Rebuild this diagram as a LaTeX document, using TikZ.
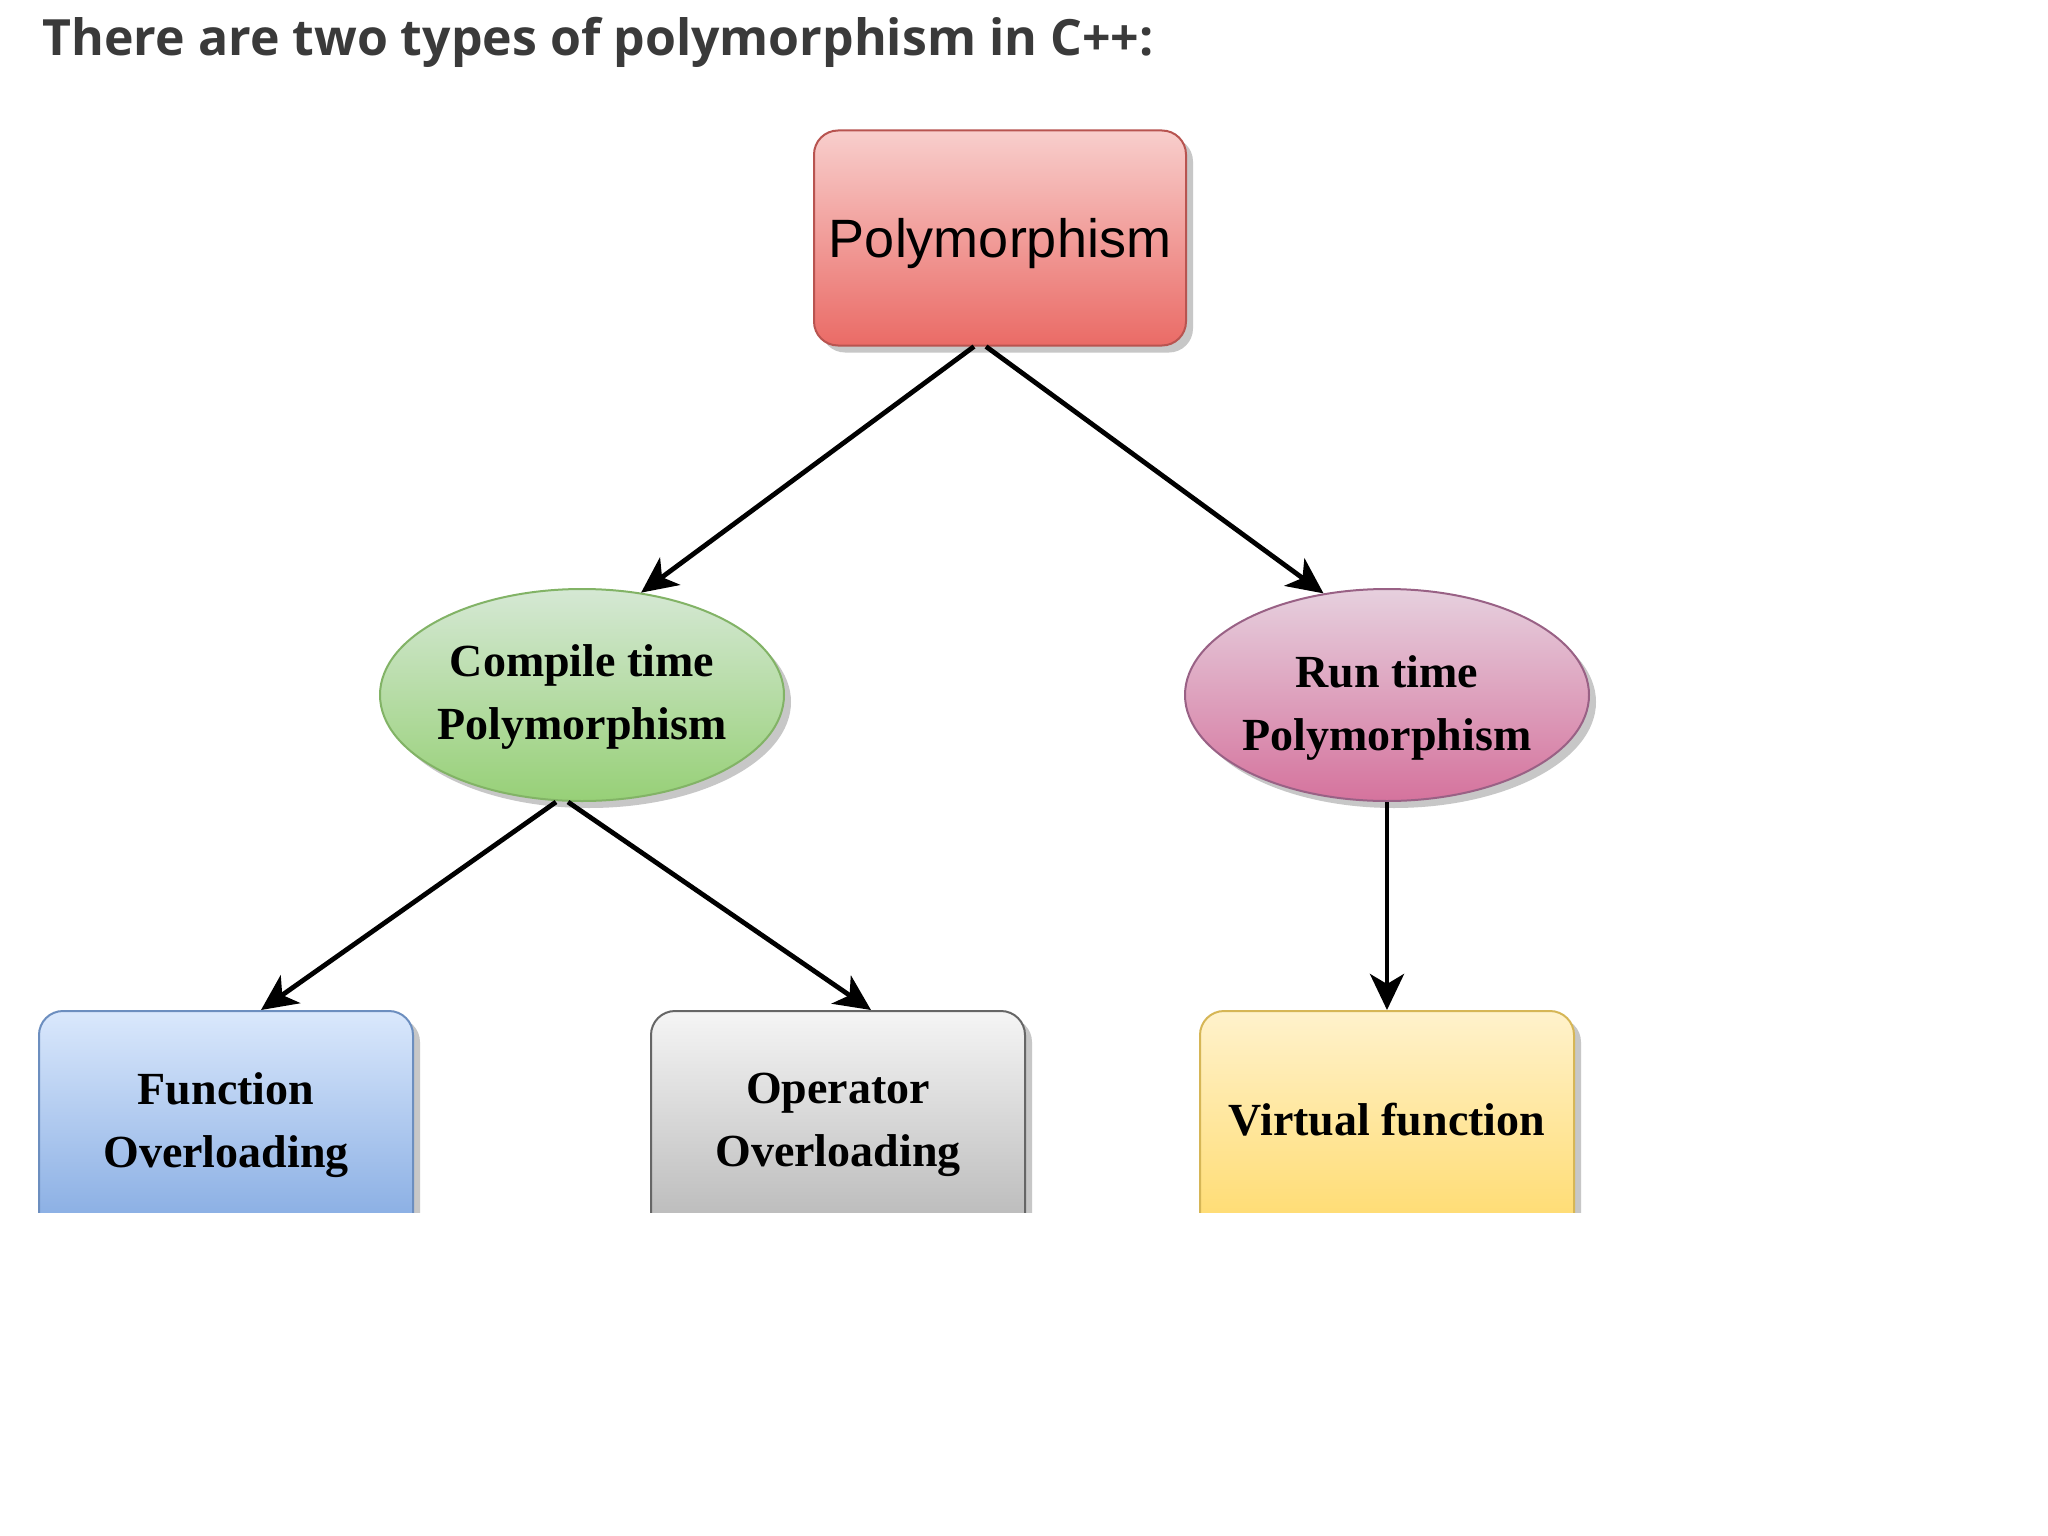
\documentclass[tikz,border=0pt]{standalone}
\usepackage{fontspec}
\setmainfont{Liberation Serif}
\newfontfamily\arialf{Liberation Sans}
\newfontfamily\titlef{Open Sans}
\usetikzlibrary{shapes.geometric,shadows,arrows.meta}
\definecolor{redT}{HTML}{F8CECC}\definecolor{redB}{HTML}{EA6B66}\definecolor{redD}{HTML}{B85450}
\definecolor{grnT}{HTML}{D5E8D4}\definecolor{grnB}{HTML}{97D077}\definecolor{grnD}{HTML}{82B366}
\definecolor{pnkT}{HTML}{E6D0DE}\definecolor{pnkB}{HTML}{D5739D}\definecolor{pnkD}{HTML}{996185}
\definecolor{bluT}{HTML}{DAE8FC}\definecolor{bluB}{HTML}{7EA6E0}\definecolor{bluD}{HTML}{6C8EBF}
\definecolor{gryT}{HTML}{F5F5F5}\definecolor{gryB}{HTML}{B3B3B3}\definecolor{gryD}{HTML}{666666}
\definecolor{ylwT}{HTML}{FFF2CC}\definecolor{ylwB}{HTML}{FFD966}\definecolor{ylwD}{HTML}{D6B656}
\definecolor{titlec}{HTML}{3A3A3A}
\begin{document}
\begin{tikzpicture}[x=1pt,y=-1pt,
  shad/.style={drop shadow={shadow xshift=7pt,shadow yshift=-7pt,fill=black!40,opacity=0.55}},
  topbox/.style={rectangle,rounded corners=24pt,line width=2pt,minimum width=372pt,minimum height=215pt,
     align=center,shad,text depth=0pt,font=\arialf\fontsize{54}{64}\selectfont},
  ell/.style={ellipse,minimum width=404pt,minimum height=212pt,line width=2pt,inner sep=0pt,shad},
  lowbox/.style={rectangle,rounded corners=24pt,line width=2pt,minimum width=374pt,minimum height=240pt,
     anchor=north,shad},
  lowtext/.style={align=center,font=\bfseries\fontsize{46}{63}\selectfont},
  arr/.style={line width=4.8pt,-{Stealth[length=36pt,width=34pt,inset=10pt]}}]
\useasboundingbox (0,0) rectangle (2048,1536);
\fill[white] (0,0) rectangle (2048,1536);
\node[anchor=base west,text=titlec,font=\titlef\bfseries\fontsize{50}{60}\selectfont] (title) at (39,56)
  {There are two types of polymorphism in C++:};
\node[topbox,draw=redD,top color=redT,bottom color=redB] (poly) at (1000,238) {Polymorphism};
\node[ell,draw=grnD,top color=grnT,bottom color=grnB] (comp) at (582,695) {};
\node[ell,draw=pnkD,top color=pnkT,bottom color=pnkB] (run) at (1387,695) {};
\node[lowtext] (ctext) at (582,697) {Compile time\\Polymorphism};
\node[lowtext] (rtext) at (1387,708) {Run time\\Polymorphism};
\node[lowbox,draw=bluD,top color=bluT,bottom color=bluB] (fbox) at (226,1010) {};
\node[lowbox,draw=gryD,top color=gryT,bottom color=gryB] (obox) at (838,1010) {};
\node[lowbox,draw=ylwD,top color=ylwT,bottom color=ylwB] (vbox) at (1387,1010) {};
\fill[white] (0,1213) rectangle (2048,1536);
\node[lowtext] (ftext) at (226,1125) {Function\\Overloading};
\node[lowtext] (otext) at (838,1125) {Operator\\Overloading};
\node[lowtext] (vtext) at (1387,1120) {Virtual function};
\draw[arr] ([xshift=-26pt]poly.south) -- (comp.60);
\draw[arr] ([xshift=-14pt]poly.south) -- (run.122);
\draw[arr] ([xshift=-26pt]comp.south) -- ([xshift=35pt]fbox.north);
\draw[arr] ([xshift=-14pt]comp.south) -- ([xshift=33pt]obox.north);
\draw[arr] (run.south) -- (vbox.north);
\end{tikzpicture}
\end{document}
